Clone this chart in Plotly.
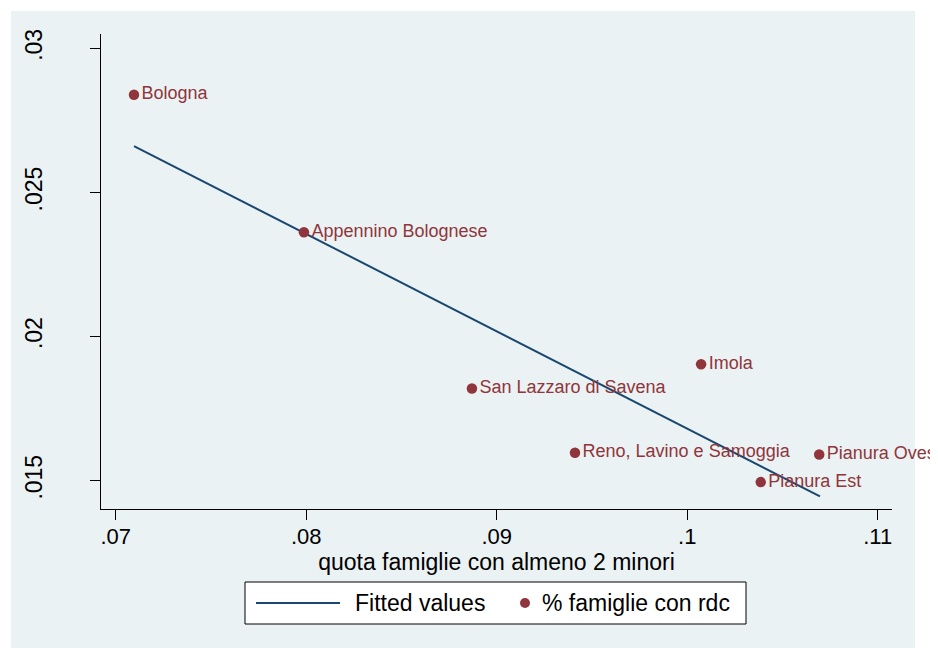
import plotly.graph_objects as go

# Data
zones = ["Bologna", "Appennino Bolognese", "San Lazzaro di Savena", "Imola",
         "Reno, Lavino e Samoggia", "Pianura Ovest", "Pianura Est"]
quota_2minori = [0.07096, 0.07988, 0.0887, 0.10073, 0.09411, 0.10693, 0.10386]
perc_rdc = [0.02839, 0.02362, 0.01820, 0.01904, 0.01597, 0.01591, 0.01495]

fit_x = [0.07096, 0.10697]
fit_y = [0.02661, 0.014455]

x_ticks = [0.07, 0.08, 0.09, 0.10, 0.11]
x_ticklabels = [".07", ".08", ".09", ".1", ".11"]
y_ticks = [0.015, 0.02, 0.025, 0.03]
y_ticklabels = [".015", ".02", ".025", ".03"]

NAVY = "#1a476f"
MAROON = "#90353b"
BG = "#eaf2f3"
FONT = "Liberation Sans, Arial, sans-serif"

OFF = 8  # page body margin offset
W, H = 930, 640
L, T = 101 - OFF, 34 - OFF
PW, PH = 791, 475
R, B = W - L - PW, H - T - PH


def px_x(p):
    return (p - OFF - L) / PW


def px_y(p):
    return (T + PH - (p - OFF)) / PH


fig = go.Figure()
fig.add_trace(go.Scatter(
    x=fit_x, y=fit_y, mode="lines", name="Fitted values",
    line=dict(color=NAVY, width=2), showlegend=False, hoverinfo="skip"))
fig.add_trace(go.Scatter(
    x=quota_2minori, y=perc_rdc, mode="markers+text", name="% famiglie con rdc",
    text=zones, textposition="middle right",
    textfont=dict(family=FONT, size=18, color=MAROON),
    marker=dict(color=MAROON, size=10.5), cliponaxis=False, showlegend=False))

shapes = [
    # outer graph region background
    dict(type="rect", xref="paper", yref="paper", layer="below",
         x0=px_x(11), x1=px_x(915), y0=px_y(660), y1=px_y(11),
         fillcolor=BG, line=dict(width=0)),
    # legend box
    dict(type="rect", xref="paper", yref="paper",
         x0=px_x(245), x1=px_x(746), y0=px_y(624), y1=px_y(582),
         fillcolor="white", line=dict(color="black", width=1)),
    dict(type="line", xref="paper", yref="paper",
         x0=px_x(256), x1=px_x(340), y0=px_y(603), y1=px_y(603),
         line=dict(color=NAVY, width=2)),
    dict(type="circle", xref="paper", yref="paper",
         xsizemode="pixel", ysizemode="pixel",
         xanchor=px_x(525), yanchor=px_y(603), x0=-5, x1=5, y0=-5, y1=5,
         fillcolor=MAROON, line=dict(width=0)),
]

annotations = [
    dict(text="Fitted values", xref="paper", yref="paper", x=px_x(353), y=px_y(603),
         xanchor="left", yanchor="middle", showarrow=False,
         font=dict(family=FONT, size=23, color="black")),
    dict(text="% famiglie con rdc", xref="paper", yref="paper", x=px_x(540), y=px_y(603),
         xanchor="left", yanchor="middle", showarrow=False,
         font=dict(family=FONT, size=23, color="black")),
]

fig.update_layout(
    width=W, height=H,
    margin=dict(l=L, r=R, t=T, b=B, pad=0),
    paper_bgcolor="white", plot_bgcolor="white",
    font=dict(family=FONT, color="black"),
    shapes=shapes, annotations=annotations,
    showlegend=False,
)
fig.update_xaxes(
    range=[0.069228, 0.110751], tickvals=x_ticks, ticktext=x_ticklabels,
    showgrid=False, zeroline=False, showline=True, linecolor="black", linewidth=1,
    ticks="outside", ticklen=10, tickcolor="black", tickwidth=1,
    ticklabelstandoff=-2,
    tickfont=dict(family=FONT, size=22, color="black"),
    title=dict(text="quota famiglie con almeno 2 minori", standoff=0,
               font=dict(family=FONT, size=23, color="black")),
)
fig.update_yaxes(
    range=[0.014017, 0.030497], tickvals=y_ticks, ticktext=y_ticklabels,
    showgrid=True, gridcolor=BG, gridwidth=2, zeroline=False,
    showline=True, linecolor="black", linewidth=1,
    ticks="outside", ticklen=10, tickcolor="black", tickwidth=1,
    tickangle=-90, ticklabelstandoff=39,
    tickfont=dict(family=FONT, size=23, color="black"),
)

fig.write_html("out.html")
